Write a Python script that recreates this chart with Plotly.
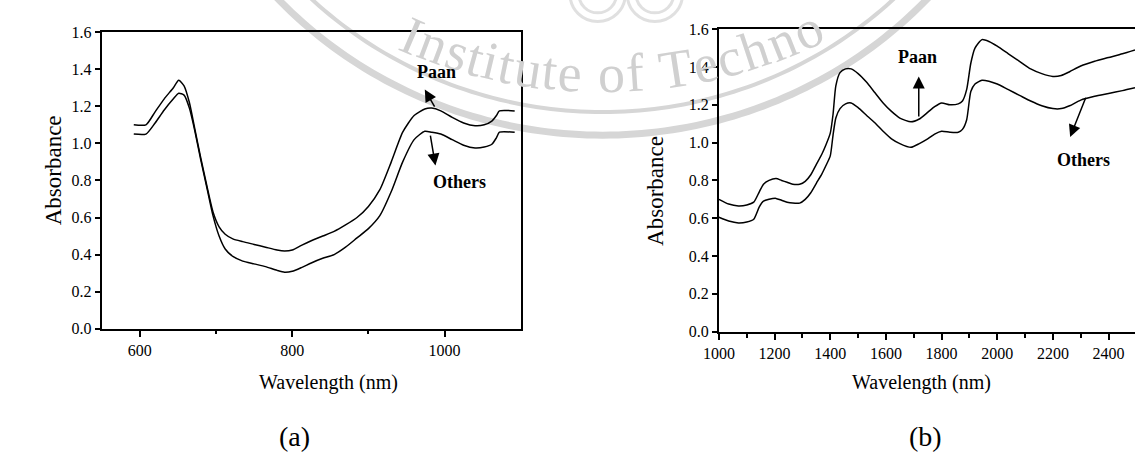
import math
import plotly.graph_objects as go

# ---------------- data ----------------
wavelength_a = [592, 608, 620, 632, 644, 651, 658, 665, 672, 680,
                688, 696, 704, 712, 722, 735, 750, 765, 780, 790,
                800, 812, 825, 840, 855, 870, 885, 900, 915, 930,
                945, 960, 974, 983, 995, 1010, 1025, 1040, 1052, 1062,
                1068, 1072, 1092]
paan_a = [1.10, 1.10, 1.17, 1.24, 1.30, 1.34, 1.31, 1.22, 1.08, 0.92,
          0.77, 0.63, 0.55, 0.51, 0.485, 0.47, 0.455, 0.44, 0.425, 0.42,
          0.425, 0.45, 0.475, 0.50, 0.525, 0.56, 0.60, 0.66, 0.75, 0.90,
          1.06, 1.15, 1.185, 1.19, 1.175, 1.14, 1.11, 1.095, 1.10, 1.12,
          1.15, 1.175, 1.175]
others_a = [1.05, 1.05, 1.11, 1.18, 1.24, 1.27, 1.26, 1.19, 1.07, 0.91,
            0.76, 0.61, 0.50, 0.43, 0.39, 0.365, 0.35, 0.335, 0.315, 0.305,
            0.31, 0.33, 0.355, 0.38, 0.40, 0.44, 0.49, 0.54, 0.61, 0.74,
            0.90, 1.02, 1.065, 1.06, 1.05, 1.02, 0.99, 0.975, 0.98, 0.995,
            1.03, 1.06, 1.06]

wavelength_b = [1000, 1035, 1070, 1100, 1125, 1145, 1160, 1180, 1205, 1225,
                1245, 1265, 1290, 1310, 1330, 1350, 1370, 1385, 1400, 1410,
                1420, 1435, 1455, 1475, 1500, 1530, 1560, 1590, 1620, 1650,
                1690, 1720, 1750, 1775, 1800, 1830, 1860, 1875, 1890, 1905,
                1920, 1945, 1970, 2000, 2040, 2080, 2120, 2160, 2200, 2230,
                2260, 2300, 2350, 2400, 2450, 2495]
paan_b = [0.70, 0.675, 0.665, 0.67, 0.685, 0.74, 0.78, 0.80, 0.81, 0.80,
          0.79, 0.78, 0.78, 0.795, 0.83, 0.885, 0.94, 0.99, 1.05, 1.15,
          1.30, 1.37, 1.39, 1.39, 1.365, 1.32, 1.265, 1.21, 1.165, 1.13,
          1.11, 1.125, 1.16, 1.19, 1.21, 1.20, 1.205, 1.22, 1.28, 1.42,
          1.50, 1.545, 1.535, 1.51, 1.47, 1.43, 1.39, 1.365, 1.35, 1.355,
          1.375, 1.405, 1.43, 1.45, 1.47, 1.49]
others_b = [0.605, 0.585, 0.575, 0.58, 0.595, 0.66, 0.69, 0.70, 0.705, 0.695,
            0.685, 0.68, 0.68, 0.70, 0.735, 0.785, 0.835, 0.88, 0.93, 1.04,
            1.13, 1.18, 1.205, 1.21, 1.185, 1.145, 1.105, 1.06, 1.02, 0.995,
            0.975, 0.995, 1.02, 1.045, 1.06, 1.055, 1.055, 1.07, 1.12, 1.27,
            1.31, 1.33, 1.325, 1.31, 1.28, 1.25, 1.22, 1.195, 1.18, 1.18,
            1.195, 1.225, 1.245, 1.26, 1.275, 1.29]

x_ticks_a = [600, 800, 1000]
x_minor_a = [700, 900]
x_ticks_b = [1000, 1200, 1400, 1600, 1800, 2000, 2200, 2400]
y_ticks = [0.0, 0.2, 0.4, 0.6, 0.8, 1.0, 1.2, 1.4, 1.6]

W, H = 1135, 463
SERIF = "Liberation Serif, Times New Roman, serif"


def px(x):
    return x / W


def py(y):
    return 1 - y / H


fig = go.Figure()
line_style = dict(color="black", width=1.5, shape="spline", smoothing=0.6)
fig.add_trace(go.Scatter(x=wavelength_a, y=paan_a, mode="lines", line=line_style,
                         xaxis="x", yaxis="y", showlegend=False))
fig.add_trace(go.Scatter(x=wavelength_a, y=others_a, mode="lines", line=line_style,
                         xaxis="x", yaxis="y", showlegend=False))
fig.add_trace(go.Scatter(x=wavelength_b, y=paan_b, mode="lines", line=line_style,
                         xaxis="x2", yaxis="y2", showlegend=False))
fig.add_trace(go.Scatter(x=wavelength_b, y=others_b, mode="lines", line=line_style,
                         xaxis="x2", yaxis="y2", showlegend=False))

tickfont = dict(family=SERIF, size=16, color="black")
axis_common = dict(showline=True, linecolor="black", linewidth=2, showgrid=False,
                   zeroline=False, ticks="outside", tickcolor="black", tickwidth=1.5,
                   tickfont=tickfont)

annotations = []
shapes = []

# ---------------- faint watermark (logo arcs + text) ----------------
WM = "#d6d6d6"
cx, cy = 595, -322
for R, wdt in [(454, 7), (430, 4)]:
    pts = []
    for i in range(0, 121):
        th = math.radians(-60 + i)
        pts.append((cx + R * math.sin(th), cy + R * math.cos(th)))
    path = "M " + " L ".join(f"{px(a):.5f},{py(b):.5f}" for a, b in pts)
    shapes.append(dict(type="path", xref="paper", yref="paper", path=path,
                       line=dict(color=WM, width=wdt), layer="below"))
# partial small rings at the top of the logo
for ccx in (590, 648):
    for rr in (28, 19):
        shapes.append(dict(type="circle", xref="paper", yref="paper",
                           x0=px(ccx - rr), x1=px(ccx + rr), y0=py(-14 + rr), y1=py(-14 - rr),
                           line=dict(color="#e0e0e0", width=3), layer="below"))

wm_text = "Institute of Techno"
char_w = {'I': .333, 'n': .5, 's': .389, 't': .278, 'i': .278, 'u': .5, 'e': .444,
          ' ': .25, 'o': .5, 'f': .333, 'T': .611, 'c': .444, 'h': .5, 'l': .278,
          'g': .5, 'y': .5}
fs = 54
tcx, tcy, Rt = 595, -420, 505
th0 = math.asin((386 - tcx) / Rt)
s = 0.0
for ch in wm_text:
    w = char_w[ch] * fs * 1.1
    th = th0 + (s + w / 2) / Rt
    s += w
    if ch == ' ':
        continue
    r = Rt - 0.3 * fs
    xx = tcx + r * math.sin(th)
    yy = tcy + r * math.cos(th)
    annotations.append(dict(text=ch, x=px(xx), y=py(yy), xref="paper", yref="paper",
                            showarrow=False, textangle=-math.degrees(th),
                            xanchor="center", yanchor="middle",
                            font=dict(family=SERIF, size=fs, color="#d0d0d0")))


def label(text, x, y, size, angle=0):
    return dict(text=text, x=px(x), y=py(y), xref="paper", yref="paper",
                showarrow=False, textangle=angle, xanchor="center", yanchor="middle",
                font=dict(family=SERIF, size=size, color="black"))


# ---------------- axis titles & panel labels ----------------
annotations += [
    label("Absorbance", 38, 168, 23, -90),
    label("Absorbance", 648, 190, 23, -90),
    label("Wavelength (nm)", 317, 389, 20),
    label("Wavelength (nm)", 918, 389, 20),
    label("(a)", 282, 445, 28),
    label("(b)", 922, 445, 28),
]

# ---------------- series labels with arrows ----------------
lab_font = dict(family=SERIF, size=18, color="black")
annotations += [
    dict(text="<b>Paan</b>", x=990, y=1.385, xref="x", yref="y", showarrow=False,
         xanchor="center", yanchor="middle", font=lab_font),
    dict(text="<b>Others</b>", x=1020, y=0.79, xref="x", yref="y", showarrow=False,
         xanchor="center", yanchor="middle", font=lab_font),
    dict(text="<b>Paan</b>", x=1715, y=1.455, xref="x2", yref="y2", showarrow=False,
         xanchor="center", yanchor="middle", font=lab_font),
    dict(text="<b>Others</b>", x=2310, y=0.91, xref="x2", yref="y2", showarrow=False,
         xanchor="center", yanchor="middle", font=lab_font),
]
arrow_common = dict(text="", showarrow=True, arrowhead=2, arrowsize=1.6, arrowwidth=1.5,
                    arrowcolor="black", standoff=0, startstandoff=0)
annotations += [
    dict(x=974, y=1.29, ax=988, ay=1.19, xref="x", yref="y", axref="x", ayref="y", **arrow_common),
    dict(x=988, y=0.88, ax=981, ay=1.05, xref="x", yref="y", axref="x", ayref="y", **arrow_common),
    dict(x=1718, y=1.35, ax=1718, ay=1.13, xref="x2", yref="y2", axref="x2", ayref="y2", **arrow_common),
    dict(x=2262, y=1.03, ax=2320, ay=1.245, xref="x2", yref="y2", axref="x2", ayref="y2", **arrow_common),
]

fig.update_layout(
    width=W, height=H,
    margin=dict(l=0, r=0, t=0, b=0),
    paper_bgcolor="white", plot_bgcolor="white",
    showlegend=False,
    xaxis=dict(domain=[px(87), px(512)], range=[550, 1100], tickvals=x_ticks_a,
               ticklen=6, mirror=True, anchor="y",
               minor=dict(tickvals=x_minor_a, ticks="outside", ticklen=3, tickcolor="black"),
               **axis_common),
    yaxis=dict(domain=[py(333), py(25)], range=[0, 1.6], tickvals=y_ticks,
               tickformat=".1f", ticklen=5, mirror=True, anchor="x", **axis_common),
    xaxis2=dict(domain=[px(713), 1.0], range=[1000, 2495], tickvals=x_ticks_b,
                ticklen=6, mirror=True, anchor="y2",
                minor=dict(dtick=100, tick0=1000, ticks="outside", ticklen=4, tickcolor="black"),
                **axis_common),
    yaxis2=dict(domain=[py(336), py(22)], range=[0, 1.6], tickvals=y_ticks,
                tickformat=".1f", ticklen=5, mirror=False, anchor="x2", **axis_common),
    annotations=annotations,
    shapes=shapes,
)

fig.write_html("out.html")
